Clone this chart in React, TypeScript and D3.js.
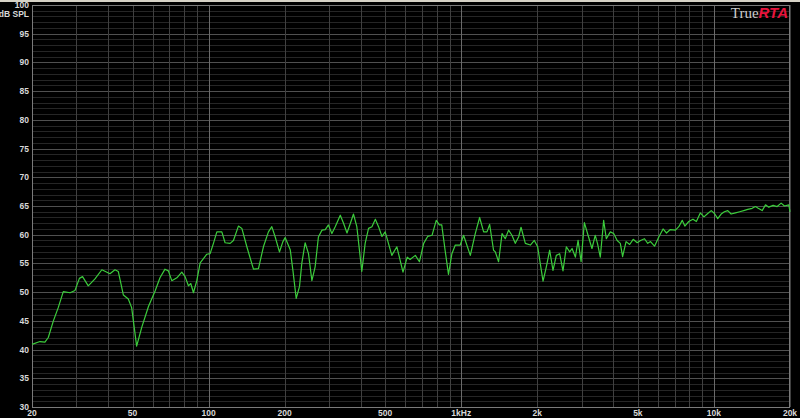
import { useEffect, useRef } from "react";
import * as d3 from "d3";

// frequency (Hz) and level (dB SPL)
const freqs = [
  20, 21.5, 22.5, 23.2, 24.3, 25.4, 26.6, 28.3, 29.6, 30.8, 31.7, 33.4, 35.5, 37.8,
  40.7, 42.6, 43.9, 46.0, 48.1, 49.6, 51.9, 54.4, 57.8, 61.4, 64.2, 67.2, 69.3, 71.5,
  74.9, 78.3, 80.7, 83.2, 85.0, 87.1, 89.8, 92.6, 98.4,
  101.4, 104.5, 107.8, 112.8, 116.2, 121.7, 125.4, 131.2, 135.4, 141.7, 150.5, 157.5,
  164.8, 172.5, 177.9, 183.5, 190.7, 196.8, 200.9, 210.4, 215.6, 222.2, 229.0, 233.8,
  241.0, 248.5, 256.3, 264.0, 272.0, 281.0, 289.5, 298.0, 307.5, 317.0, 332.0, 342.0,
  353.0, 364.0, 374.5, 386.0, 404.0, 416.5, 429.5, 443.0, 457.0, 470.5, 485.5, 500,
  531, 556, 588, 611, 627, 658, 683, 710, 736, 766, 796, 819, 837, 863, 890, 918, 947,
  991, 1021, 1086, 1136, 1182, 1226, 1264, 1295, 1342, 1364, 1405, 1450, 1493, 1539,
  1587, 1636, 1686, 1724, 1793, 1877, 1946, 2006, 2107, 2171, 2238, 2307, 2378, 2451,
  2527, 2605, 2686, 2745, 2829, 2899, 2980, 3070, 3190, 3290, 3390, 3460, 3550, 3660,
  3750, 3890, 4010, 4140, 4260, 4350, 4490, 4640, 4790, 4970, 5120, 5310, 5470, 5610,
  5820, 6050, 6290, 6490, 6720, 7040, 7260, 7490, 7670, 7950, 8260, 8520, 8830, 9130,
  9450, 9760, 10050, 10350, 10680, 11000, 11340, 11700, 12170, 12650, 13120, 13610,
  14170, 14600, 14970, 15520, 16000, 16480, 17150, 17790, 18450, 19010, 19780, 20000,
];
const levels = [
  40.9, 41.4, 41.3, 42.1, 45.0, 47.3, 50.1, 49.9, 50.3, 52.4, 52.7, 51.1, 52.3, 53.9,
  53.2, 53.9, 53.6, 49.5, 48.8, 47.3, 40.6, 43.9, 47.5, 50.2, 52.5, 54.0, 53.7, 52.0,
  52.5, 53.5, 52.7, 51.1, 51.5, 49.9, 52.0, 55.1, 56.6,
  56.7, 58.5, 60.5, 60.5, 58.6, 58.5, 59.0, 61.5, 61.1, 57.9, 54.0, 54.1,
  57.9, 60.5, 61.4, 59.6, 57.0, 58.8, 59.5, 57.4, 53.8, 48.9, 51.0, 55.0,
  58.6, 56.7, 52.0, 54.4, 59.6, 60.8, 60.9, 61.7, 60.2, 61.4, 63.4, 62.0,
  60.3, 62.0, 63.6, 61.4, 53.6, 58.5, 61.1, 61.4, 62.7, 61.4, 59.7, 60.5,
  56.4, 57.9, 53.5, 56.1, 55.7, 56.4, 55.3, 58.5, 59.7, 59.9, 62.5, 61.7, 61.7, 57.3, 53.1, 56.7, 58.2,
  58.2, 59.9, 56.4, 60.2, 63.0, 60.5, 60.5, 61.8, 57.3, 57.0, 55.3, 60.2, 59.3, 60.8,
  59.9, 58.5, 59.6, 61.3, 58.5, 58.2, 59.0, 57.9, 51.9, 54.4, 57.3, 53.8, 56.4, 56.7,
  53.7, 57.9, 57.0, 57.6, 56.1, 59.0, 55.3, 62.1, 59.6, 57.6, 59.9, 58.5, 56.1, 62.5,
  59.3, 60.5, 60.2, 59.0, 58.5, 56.2, 58.8, 58.3, 59.2, 58.6, 59.0, 59.3, 58.5, 58.8,
  58.0, 59.6, 61.0, 60.3, 60.9, 60.8, 61.4, 62.5, 61.5, 62.3, 62.7, 62.3, 63.8, 63.1,
  63.7, 64.2, 63.7, 62.8, 63.6, 64.0, 64.2, 63.6, 63.8, 64.0, 64.2, 64.4,
  64.6, 64.9, 64.6, 64.2, 65.2, 64.8, 65.1, 64.9, 65.5, 65.0, 65.2, 64.0,
];

const dbTicks = [30, 35, 40, 45, 50, 55, 60, 65, 70, 75, 80, 85, 90, 95, 100];
const freqTicks = [20, 50, 100, 200, 500, 1000, 2000, 5000, 10000, 20000];
const freqTickLabels = ["20", "50", "100", "200", "500", "1kHz", "2k", "5k", "10k", "20k"];

const W = 800;
const H = 418;

export default function App() {
  const svgRef = useRef<SVGSVGElement | null>(null);

  useEffect(() => {
    const svg = d3.select(svgRef.current);
    svg.selectAll("*").remove();

    const m = { top: 5, right: 10, bottom: 11, left: 32 };
    const x = d3.scaleLog().domain([20, 20000]).range([m.left, W - m.right]);
    const y = d3.scaleLinear().domain([30, 100]).range([H - m.bottom, m.top]);

    svg.append("rect").attr("width", W).attr("height", H).attr("fill", "#000");
    svg.append("rect").attr("width", W).attr("height", 2).attr("fill", "#d6d2c6");

    const grid = svg.append("g").attr("shape-rendering", "crispEdges");

    // horizontal lines every dB
    grid.selectAll(".hl")
      .data(d3.range(30, 101, 1))
      .enter()
      .append("line")
      .attr("x1", m.left)
      .attr("x2", W - m.right)
      .attr("y1", d => Math.round(y(d)) + 0.5)
      .attr("y2", d => Math.round(y(d)) + 0.5)
      .attr("stroke", d => (d % 5 === 0 ? "#505050" : "#262626"));

    // vertical lines 1-2-3...9 per decade
    const vlines: number[] = [];
    [10, 100, 1000, 10000].forEach(dec => {
      for (let k = 1; k <= 9; k++) {
        const f = dec * k;
        if (f >= 20 && f <= 20000) vlines.push(f);
      }
    });
    vlines.push(20000);
    grid.selectAll(".vl")
      .data(vlines)
      .enter()
      .append("line")
      .attr("x1", d => Math.round(x(d)) + 0.5)
      .attr("x2", d => Math.round(x(d)) + 0.5)
      .attr("y1", m.top)
      .attr("y2", H - m.bottom)
      .attr("stroke", d => ([100, 1000, 10000].includes(d) ? "#6a6a6a" : "#404040"));

    // frame
    grid.append("rect")
      .attr("x", m.left + 0.5)
      .attr("y", m.top + 0.5)
      .attr("width", W - m.right - m.left - 1)
      .attr("height", H - m.bottom - m.top)
      .attr("fill", "none")
      .attr("stroke", "#7a7a7a");

    // trace
    const line = d3.line<number>()
      .x((_, i) => x(freqs[i]))
      .y(d => y(d))
      .curve(d3.curveLinear);
    svg.append("path")
      .datum(levels)
      .attr("d", line)
      .attr("fill", "none")
      .attr("stroke", "#3ccd3c")
      .attr("stroke-width", 1.2)
      .attr("stroke-linejoin", "round");

    const labelFont = "'Liberation Sans', Arial, sans-serif";

    svg.append("g")
      .selectAll("text")
      .data(dbTicks)
      .enter()
      .append("text")
      .attr("x", 29)
      .attr("y", d => y(d) + 3)
      .attr("text-anchor", "end")
      .attr("font-family", labelFont)
      .attr("font-weight", "bold")
      .attr("font-size", 8.5)
      .attr("fill", "#d8d8d8")
      .text(d => d);

    svg.append("text")
      .attr("x", 29)
      .attr("y", 17)
      .attr("text-anchor", "end")
      .attr("font-family", labelFont)
      .attr("font-weight", "bold")
      .attr("font-size", 8.5)
      .attr("fill", "#d8d8d8")
      .text("dB SPL");

    svg.append("g")
      .selectAll("text")
      .data(freqTicks)
      .enter()
      .append("text")
      .attr("x", d => x(d))
      .attr("y", 416)
      .attr("text-anchor", "middle")
      .attr("font-family", labelFont)
      .attr("font-weight", "bold")
      .attr("font-size", 8.5)
      .attr("fill", "#d8d8d8")
      .text((_, i) => freqTickLabels[i]);

    // logo
    const logo = svg.append("text")
      .attr("x", 788)
      .attr("y", 18)
      .attr("text-anchor", "end");
    logo.append("tspan")
      .attr("font-family", "'Liberation Serif', 'DejaVu Serif', serif")
      .attr("font-size", 15)
      .attr("fill", "#cfcfcf")
      .text("True");
    logo.append("tspan")
      .attr("font-family", "'Liberation Sans', Arial, sans-serif")
      .attr("font-weight", "bold")
      .attr("font-style", "italic")
      .attr("font-size", 15)
      .attr("fill", "#e8143c")
      .text("RTA");
  }, []);

  return (
    <svg
      ref={svgRef}
      width={W}
      height={H}
      style={{ position: "absolute", left: 0, top: 0, display: "block" }}
    />
  );
}
